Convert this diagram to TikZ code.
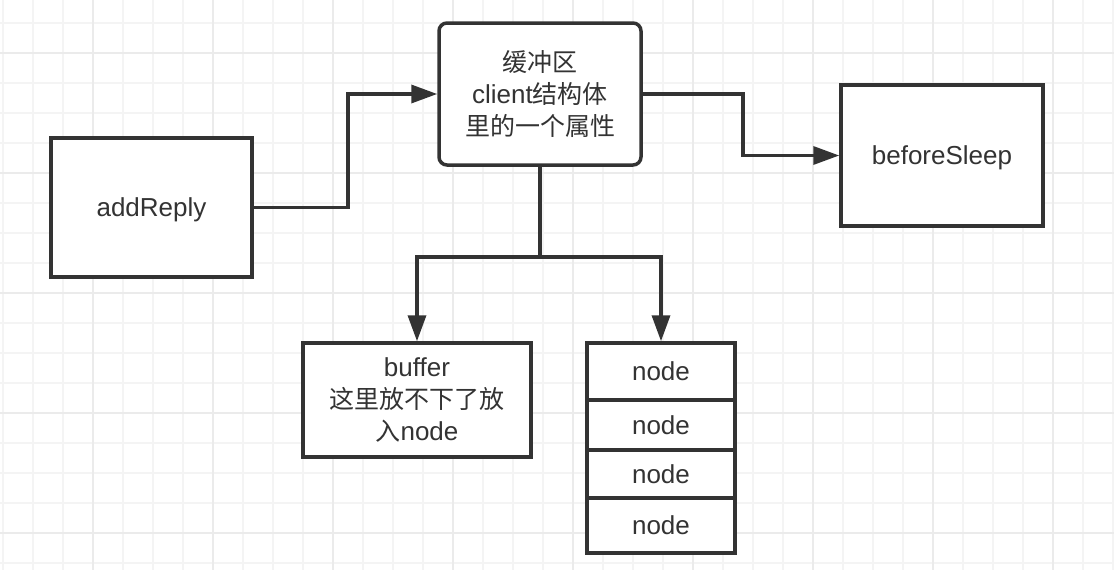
\documentclass[tikz,border=0pt]{standalone}
\usepackage{fontspec}
\setmainfont{Liberation Sans}
\newfontfamily\cjk{Noto Sans CJK SC}
\usetikzlibrary{arrows.meta}
\definecolor{ink}{HTML}{333333}
\definecolor{gridminor}{HTML}{F4F4F4}
\definecolor{gridmajor}{HTML}{EBEBEB}
\newcommand\zh[1]{{\cjk\fontsize{25}{32}\selectfont #1}}
\begin{document}
\begin{tikzpicture}[x=1pt,y=-1pt,
  box/.style={draw=ink, line width=3.5pt, fill=white, text=ink, align=center,
    inner sep=0pt, font=\fontsize{26}{32}\selectfont},
  single/.style={text depth=0pt},
  wire/.style={draw=ink, line width=3.5pt},
  conn/.style={wire, -{Triangle[length=26pt,width=18pt]}},
  minorline/.style={draw=gridminor, line width=1.6pt},
  majorline/.style={draw=gridmajor, line width=1.8pt}]
\useasboundingbox (0,0) rectangle (1114,570);
\fill[white] (0,0) rectangle (1114,570);
% grid
\foreach \x in {3,33,...,1113} \draw[minorline] (\x,0) -- (\x,570);
\foreach \y in {23,53,...,569} \draw[minorline] (0,\y) -- (1114,\y);
\foreach \x in {93,213,...,1113} \draw[majorline] (\x,0) -- (\x,570);
\foreach \y in {53,173,...,569} \draw[majorline] (0,\y) -- (1114,\y);
% nodes
\node[box, single, minimum width=201pt, minimum height=139pt] (add) at (151.5,207.5) {addReply};
\node[box, rounded corners=8pt, minimum width=202pt, minimum height=142pt] (buf) at (540,94)
  {\zh{缓冲区}\\client\zh{结构体}\\\zh{里的一个属性}};
\node[box, single, minimum width=202pt, minimum height=141pt] (sleep) at (942,155.5) {beforeSleep};
\node[box, minimum width=228pt, minimum height=114pt] (bufbox) at (417,400)
  {buffer\\\zh{这里放不下了放}\\\zh{入}node};
\node[box, minimum width=148pt, minimum height=57pt] (n1) at (661,371.5) {node};
\node[box, minimum width=148pt, minimum height=50pt] (n2) at (661,425) {node};
\node[box, minimum width=148pt, minimum height=48pt] (n3) at (661,474) {node};
\node[box, minimum width=148pt, minimum height=55pt] (n4) at (661,525.5) {node};
% connectors
\draw[conn] (add.east) -- ++(94,0) |- (buf.west);
\draw[conn] (buf.east) -- ++(100,0) |- (sleep.west);
\draw[wire] (buf.south) -- ++(0,90) coordinate (split);
\draw[conn] (split) -| (bufbox.north);
\draw[conn] (split) -| (n1.north);
\end{tikzpicture}
\end{document}
